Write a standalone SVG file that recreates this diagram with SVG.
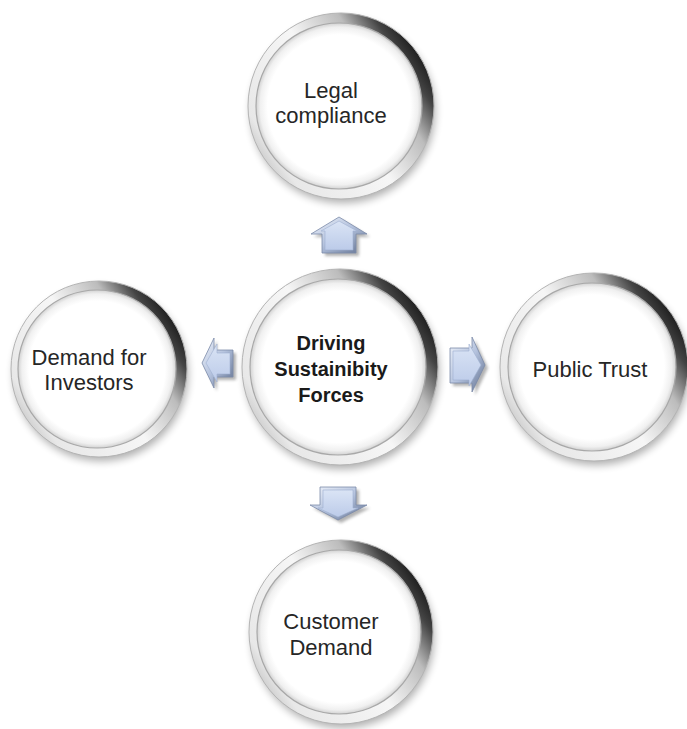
<svg xmlns="http://www.w3.org/2000/svg" width="687" height="729" viewBox="0 0 687 729">
<style>
  .shadow { fill: #000; opacity: 0.32; filter: url(#blur4); }
  .ring { fill: url(#ringG); stroke: #b4b4b4; stroke-width: 1; }
  .face { fill: url(#faceG); stroke: #a8a8a8; stroke-width: 1.2; }
  .hl { fill: none; stroke: #ffffff; stroke-width: 2.5; opacity: 0.9; }
  .lbl { font-family: "Liberation Sans", Arial, sans-serif; font-size: 22px; fill: #262626; text-anchor: middle; }
  .bold { font-weight: bold; font-size: 20px; fill: #1a1a1a; }
  .ashadow { fill: #555; opacity: 0.45; filter: url(#blur2); }
  .aouter { fill: url(#bevelG); stroke: #7b8aa8; stroke-width: 0.8; stroke-linejoin: miter; }
  .ainner { fill: url(#arrowG); stroke: #9fb0d0; stroke-width: 0.6; }
</style>
<defs>
  <filter id="blur4" x="-20%" y="-20%" width="140%" height="140%"><feGaussianBlur stdDeviation="4"/></filter>
  <filter id="blur2" x="-30%" y="-30%" width="160%" height="160%"><feGaussianBlur stdDeviation="1.8"/></filter>
  <linearGradient id="ringG" x1="0.05" y1="0.8" x2="0.95" y2="0.2">
    <stop offset="0" stop-color="#c4c4c4"/>
    <stop offset="0.1" stop-color="#e8e8e8"/>
    <stop offset="0.5" stop-color="#f6f6f6"/>
    <stop offset="0.74" stop-color="#bcbcbc"/>
    <stop offset="0.88" stop-color="#444444"/>
    <stop offset="1" stop-color="#101010"/>
  </linearGradient>
  <radialGradient id="faceG" cx="0.5" cy="0.5" r="0.5">
    <stop offset="0" stop-color="#ffffff"/>
    <stop offset="0.86" stop-color="#ffffff"/>
    <stop offset="0.95" stop-color="#f0f0f0"/>
    <stop offset="1" stop-color="#d2d2d2"/>
  </radialGradient>
  <linearGradient id="bevelG" x1="0" y1="0" x2="1" y2="1">
    <stop offset="0" stop-color="#f0f4fb"/>
    <stop offset="0.5" stop-color="#b4c2dd"/>
    <stop offset="1" stop-color="#5f6f8e"/>
  </linearGradient>
  <linearGradient id="arrowG" x1="0" y1="0" x2="0" y2="1">
    <stop offset="0" stop-color="#dae4f5"/>
    <stop offset="1" stop-color="#bccbe9"/>
  </linearGradient>
</defs>

<g id="connectors">
  <g id="arrow-up">
    <polygon class="ashadow" points="342,220 370,237 359,237 359,256 325,256 325,237 314,237"/>
    <polygon class="aouter" points="339,217 367,234 356,234 356,253 322,253 322,234 311,234"/>
    <polygon class="ainner" points="339,221 357,231 353,231 353,250 325,250 325,231 321,231"/>
  </g>
  <g id="arrow-down">
    <polygon class="ashadow" points="323,490 359,490 359,508 370,508 341,523 313,508 323,508"/>
    <polygon class="aouter" points="320,487 356,487 356,505 367,505 338,520 310,505 320,505"/>
    <polygon class="ainner" points="323,490 353,490 353,508 358,508 338,517 318,508 323,508"/>
  </g>
  <g id="arrow-left">
    <polygon class="ashadow" points="205,366 217,341 217,353 236,353 236,380 217,380 217,391"/>
    <polygon class="aouter" points="202,363 214,338 214,350 233,350 233,377 214,377 214,388"/>
    <polygon class="ainner" points="206,363 217,344 217,353 230,353 230,374 217,374 217,382"/>
  </g>
  <g id="arrow-right">
    <polygon class="ashadow" points="453,351 475,351 475,340 488,368 475,395 475,386 453,386"/>
    <polygon class="aouter" points="450,348 472,348 472,337 485,365 472,392 472,383 450,383"/>
    <polygon class="ainner" points="453,351 469,351 469,344 481,365 469,386 469,380 453,380"/>
  </g>
</g>

<g id="node-legal">
  <circle class="shadow" cx="343" cy="111" r="92"/>
  <circle class="ring" cx="341" cy="106" r="93"/>
  <path class="hl" d="M 262 86 A 82 82 0 0 1 330 25"/>
  <circle class="face" cx="339" cy="106" r="83"/>
  <text class="lbl" x="331" y="98">Legal</text>
  <text class="lbl" x="331" y="123">compliance</text>
</g>

<g id="node-center">
  <circle class="shadow" cx="342" cy="372" r="97"/>
  <circle class="ring" cx="340" cy="367" r="98"/>
  <path class="hl" d="M 255 345 A 87 87 0 0 1 328 281"/>
  <circle class="face" cx="338" cy="367" r="88"/>
  <text class="lbl bold" x="331" y="350">Driving</text>
  <text class="lbl bold" x="331" y="376">Sustainibity</text>
  <text class="lbl bold" x="331" y="402">Forces</text>
</g>

<g id="node-investors">
  <circle class="shadow" cx="101" cy="374" r="87"/>
  <circle class="ring" cx="99" cy="369" r="88"/>
  <path class="hl" d="M 24 350 A 78 78 0 0 1 88 292"/>
  <circle class="face" cx="97" cy="369" r="79"/>
  <text class="lbl" x="89" y="365">Demand for</text>
  <text class="lbl" x="89" y="390">Investors</text>
</g>

<g id="node-trust">
  <circle class="shadow" cx="596" cy="372" r="93"/>
  <circle class="ring" cx="594" cy="367" r="94"/>
  <path class="hl" d="M 514 347 A 83 83 0 0 1 583 285"/>
  <circle class="face" cx="592" cy="367" r="84"/>
  <text class="lbl" x="590" y="377">Public Trust</text>
</g>

<g id="node-customer">
  <circle class="shadow" cx="343" cy="637" r="91"/>
  <circle class="ring" cx="341" cy="632" r="92"/>
  <path class="hl" d="M 262 612 A 81 81 0 0 1 330 552"/>
  <circle class="face" cx="339" cy="632" r="82"/>
  <text class="lbl" x="331" y="629">Customer</text>
  <text class="lbl" x="331" y="655">Demand</text>
</g>
</svg>
